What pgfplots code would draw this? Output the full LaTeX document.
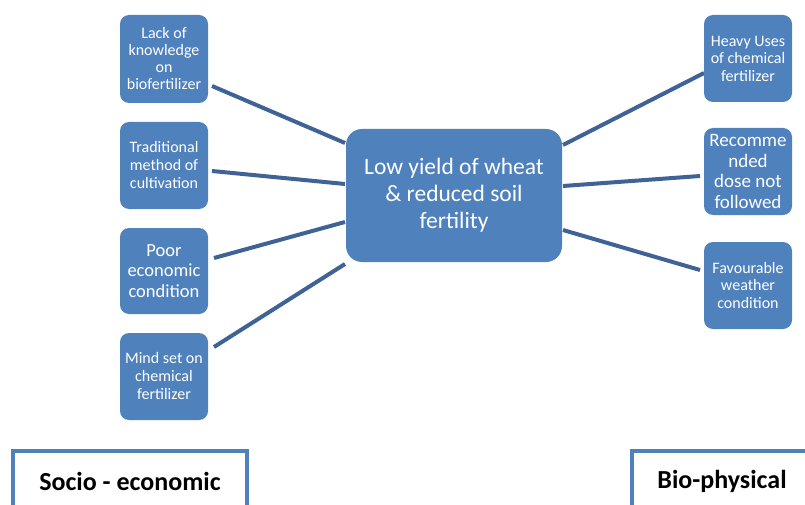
\documentclass[border=0pt]{standalone}
\usepackage{pgfplots}
\pgfplotsset{compat=1.18}
\usepackage{fontspec}
\setmainfont{Carlito}
\definecolor{boxfill}{HTML}{4F81BD}
\definecolor{linec}{HTML}{3F6396}
\tikzset{box/.style={fill=boxfill, draw=none, rounded corners=9pt, text=white, align=center, inner sep=0pt}}
\begin{document}
\begin{tikzpicture}
\begin{axis}[
  width=805pt, height=505pt, scale only axis,
  xmin=0, xmax=805, ymin=0, ymax=505, y dir=reverse,
  hide axis,
]
\addplot[draw=none] coordinates {(0,0) (805,505)};
% connector lines
\addplot[linec, line width=4pt] coordinates {(212,86) (345,143)};
\addplot[linec, line width=4pt] coordinates {(212,171) (345,184)};
\addplot[linec, line width=4pt] coordinates {(214,258) (345,222)};
\addplot[linec, line width=4pt] coordinates {(214,347) (345,264)};
\addplot[linec, line width=4pt] coordinates {(563,145) (704,73)};
\addplot[linec, line width=4pt] coordinates {(563,186) (700,176)};
\addplot[linec, line width=4pt] coordinates {(563,230) (700,270)};
% bottom open boxes
\addplot[boxfill, line width=4pt] coordinates {(13,520) (13,451) (247,451) (247,520)};
\addplot[boxfill, line width=4pt] coordinates {(632,520) (632,451) (820,451)};
% boxes
\node[box, minimum width=88pt, minimum height=88pt, font=\fontsize{16}{17}\selectfont] at (axis cs:164,59) {Lack of\\knowledge\\on\\biofertilizer};
\node[box, minimum width=88pt, minimum height=87pt, font=\fontsize{16}{18}\selectfont] at (axis cs:164,165.5) {Traditional\\method of\\cultivation};
\node[box, minimum width=88pt, minimum height=86pt, font=\fontsize{18.5}{20.5}\selectfont] at (axis cs:164,271) {Poor\\economic\\condition};
\node[box, minimum width=88pt, minimum height=87pt, font=\fontsize{16}{18}\selectfont] at (axis cs:164,376.5) {Mind set on\\chemical\\fertilizer};
\node[box, minimum width=216pt, minimum height=133pt, rounded corners=16pt, font=\fontsize{23.5}{27}\selectfont] at (axis cs:454,195.5) {Low yield of wheat\\\&~reduced soil\\fertility};
\node[box, minimum width=88pt, minimum height=87pt, font=\fontsize{16}{17.5}\selectfont] at (axis cs:748,58.5) {Heavy Uses\\of chemical\\fertilizer};
\node[box, minimum width=88pt, minimum height=87pt, font=\fontsize{19}{20.5}\selectfont] at (axis cs:748,171.5) {Recomme\\nded\\dose not\\followed};
\node[box, minimum width=88pt, minimum height=87pt, font=\fontsize{16}{17.5}\selectfont] at (axis cs:748,285.5) {Favourable\\weather\\condition};
% bottom labels
\node[font=\fontsize{26}{30}\selectfont\bfseries, text=black] at (axis cs:130,481) {Socio - economic};
\node[font=\fontsize{26}{30}\selectfont\bfseries, text=black] at (axis cs:722,481) {Bio-physical};
\end{axis}
\end{tikzpicture}
\end{document}
